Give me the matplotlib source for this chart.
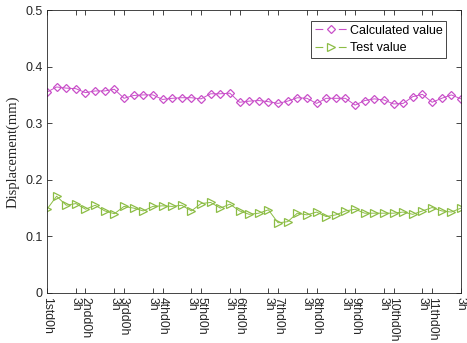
import matplotlib
matplotlib.use("Agg")
import numpy as np
import matplotlib.pyplot as plt
from matplotlib.lines import Line2D

# значения (44 точки: 11 суток по 4 замера)
calculated = [0.355, 0.364, 0.362, 0.361, 0.354, 0.357, 0.357, 0.360,
              0.344, 0.349, 0.350, 0.350, 0.342, 0.344, 0.345, 0.345,
              0.343, 0.352, 0.352, 0.353, 0.337, 0.339, 0.340, 0.338,
              0.335, 0.339, 0.345, 0.344, 0.335, 0.344, 0.344, 0.344,
              0.332, 0.340, 0.343, 0.341, 0.334, 0.335, 0.347, 0.351,
              0.337, 0.344, 0.350, 0.343]
test = [0.148, 0.171, 0.155, 0.158, 0.148, 0.155, 0.145, 0.140,
        0.153, 0.150, 0.145, 0.153, 0.154, 0.153, 0.155, 0.145,
        0.158, 0.160, 0.150, 0.157, 0.145, 0.139, 0.141, 0.147,
        0.124, 0.126, 0.141, 0.138, 0.143, 0.135, 0.138, 0.145,
        0.148, 0.141, 0.141, 0.141, 0.141, 0.143, 0.139, 0.145,
        0.151, 0.145, 0.143, 0.150]
days = ['1st', '2nd', '3rd', '4th', '5th', '6th', '7th', '8th', '9th',
        '10th', '11th']

x = np.arange(1, len(calculated) + 1)

tick_pos = []
tick_lab = []
for i, d in enumerate(days):
    tick_pos += [4 * i + 1, 4 * i + 4]
    tick_lab += [d + 'd0h', '3h']

c_mag = '#c94fc9'
c_grn = '#8cbd45'

fig = plt.figure(figsize=(4.67, 3.43), dpi=100)
ax = fig.add_axes([0.1006, 0.1458, 0.8865, 0.825])

ax.plot(x, calculated, '-', color=c_mag, marker='D', markersize=4.3,
        markerfacecolor='none', markeredgewidth=0.9, linewidth=0.7)
ax.plot(x, test, '-', color=c_grn, marker='>', markersize=5.2,
        markerfacecolor='none', markeredgewidth=0.9, linewidth=0.7)

ax.set_xlim(1, 44)
ax.set_ylim(0, 0.5)
ax.set_yticks([0, 0.1, 0.2, 0.3, 0.4, 0.5])
ax.set_yticklabels(['0', '0.1', '0.2', '0.3', '0.4', '0.5'],
                   family='Liberation Sans', fontsize=9)
ax.set_xticks(tick_pos)
ax.set_xticklabels(tick_lab, rotation=270, family='Liberation Sans',
                   fontsize=8.8)
ax.tick_params(direction='in', length=3.5, width=0.6, colors='#262626',
               top=True, right=True, pad=3)
for s in ax.spines.values():
    s.set_linewidth(0.6)
    s.set_color('#262626')

ax.set_ylabel('Displacement(mm)', family='Liberation Serif', fontsize=10.5,
              color='#262626', labelpad=4)

# легенда с пунктиром, как в оригинале
handles = [
    Line2D([], [], color=c_mag, linestyle=(0, (7, 14)), linewidth=0.8,
           marker='D', markersize=4.3, markerfacecolor='none',
           markeredgewidth=0.9),
    Line2D([], [], color=c_grn, linestyle=(0, (7, 14)), linewidth=0.8,
           marker='>', markersize=5.2, markerfacecolor='none',
           markeredgewidth=0.9),
]
leg = ax.legend(handles, ['Calculated value', 'Test value'],
                loc='upper right', bbox_to_anchor=(0.964, 0.961),
                borderaxespad=0, fancybox=False, edgecolor='#262626',
                prop={'family': 'Liberation Sans', 'size': 9},
                handlelength=2.6, handletextpad=0.2, borderpad=0.3,
                labelspacing=0.45, framealpha=1)
leg.get_frame().set_linewidth(0.6)

fig.savefig('out.png', dpi=100)
